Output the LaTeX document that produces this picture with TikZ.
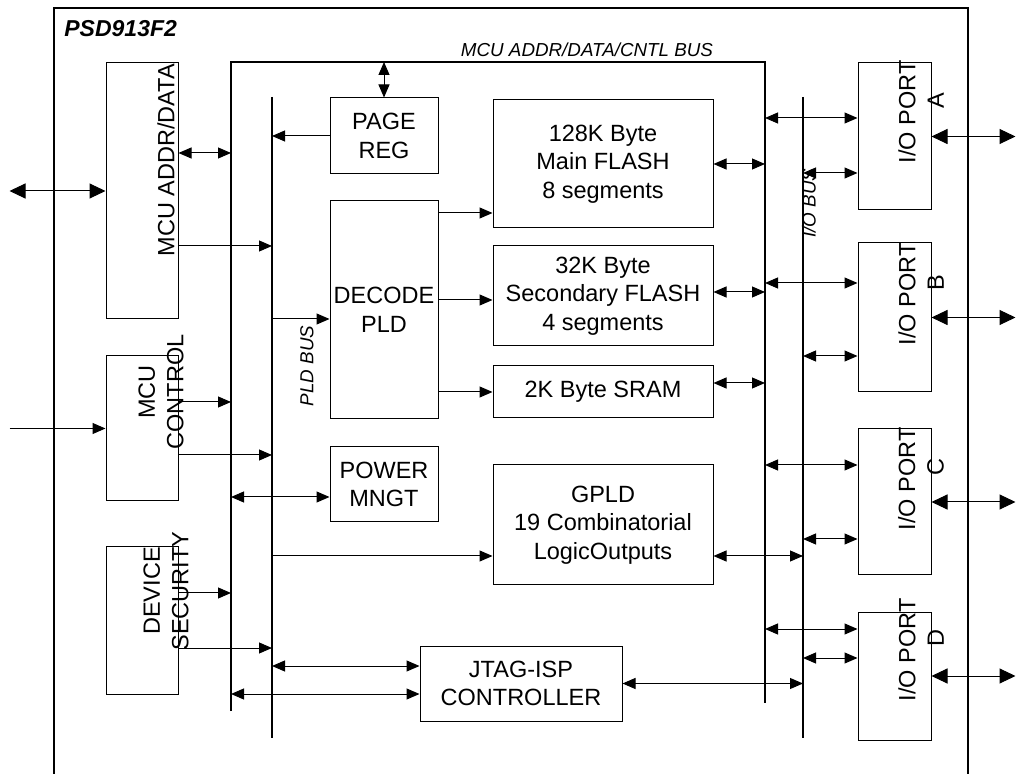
\documentclass[tikz,border=0pt]{standalone}
\usepackage{fontspec}
\setmainfont{Liberation Sans}
\usetikzlibrary{arrows.meta, positioning}

\begin{document}
\begin{tikzpicture}[
  x=0.5pt, y=-0.5pt,
  font=\fontsize{11.75}{14.25}\selectfont,
  blk/.style={draw, line width=0.5pt, inner sep=0pt, align=center},
  vtxt/.style={rotate=90, align=center, inner sep=0pt},
  buslbl/.style={font=\fontsize{9.4}{11}\selectfont\itshape, inner sep=0pt},
  bus/.style={line width=1.2pt},
  flow/.style={-{Triangle[length=6.5pt, width=5.5pt]}, line width=0.5pt},
  dflow/.style={{Triangle[length=6.5pt, width=5.5pt]}-{Triangle[length=6.5pt, width=5.5pt]}, line width=0.5pt},
  ext/.style={{Triangle[length=8pt, width=7.5pt]}-{Triangle[length=8pt, width=7.5pt]}, line width=0.5pt},
]
\useasboundingbox (0,0) rectangle (1017,774);

\draw[line width=1.2pt] (54,774) -- (54,8) -- (968,8) -- (968,774);
\node[anchor=base west, inner sep=0pt, font=\fontsize{11.5}{14}\selectfont\bfseries\itshape] (title) at (64,37) {PSD913F2};

% buses
\coordinate (mbLb) at (231,711);
\coordinate (mbLt) at (231,62);
\coordinate (mbRt) at (765,62);
\coordinate (mbRb) at (765,703);
\coordinate (pldt) at (272,97);
\coordinate (pldb) at (272,738);
\coordinate (iot) at (803,97);
\coordinate (iob) at (803,738);
\draw[bus] (mbLb) -- (mbLt) -- (mbRt) -- (mbRb);
\draw[bus] (pldt) -- (pldb);
\draw[bus] (iot) -- (iob);
\node[buslbl, anchor=base] (mbus-t) at (587,57) {MCU ADDR/DATA/CNTL BUS};
\node[buslbl, rotate=90] (pld-t) at (307,366) {PLD BUS};
\node[buslbl, rotate=90] (io-t) at (809,203) {I/O BUS};

% left blocks
\node[blk, minimum width=36pt, minimum height=128pt] (mcuad) at (142,191) {};
\node[vtxt] (mcuad-t) at (166,160) {MCU ADDR/DATA};
\node[blk, minimum width=36pt, minimum height=72.5pt] (mcuctl) at (142,428.5) {};
\node[vtxt] (mcuctl-t) at (161,392) {MCU\\CONTROL};
\node[blk, minimum width=36pt, minimum height=73.5pt] (devsec) at (142,620.5) {};
\node[vtxt] (devsec-t) at (166,591) {DEVICE\\SECURITY};

% middle blocks
\node[blk, minimum width=54pt, minimum height=38pt] (pagereg) at (384,136) {PAGE\\REG};
\node[blk, minimum width=54pt, minimum height=109pt] (decode) at (384,310) {DECODE\\PLD};
\node[blk, minimum width=54pt, minimum height=37.5pt] (power) at (384,484.5) {POWER\\MNGT};
\node[blk, minimum width=110pt, minimum height=64pt] (mainfl) at (603,164) {128K Byte\\Main FLASH\\8 segments};
\node[blk, minimum width=110pt, minimum height=50pt] (secfl) at (603,296) {32K Byte\\Secondary FLASH\\4 segments};
\node[blk, minimum width=110pt, minimum height=26pt] (sram) at (603,392) {2K Byte SRAM};
\node[blk, minimum width=110pt, minimum height=60pt] (gpld) at (603,525) {GPLD\\19 Combinatorial\\LogicOutputs};
\node[blk, minimum width=101pt, minimum height=37.5pt] (jtag) at (521,683.5) {JTAG-ISP\\CONTROLLER};

% ports
\node[blk, minimum width=36.5pt, minimum height=73.5pt] (porta) at (894.5,136.5) {};
\node[blk, minimum width=36.5pt, minimum height=74.5pt] (portb) at (894.5,317.5) {};
\node[blk, minimum width=36.5pt, minimum height=73pt] (portc) at (894.5,502) {};
\node[blk, minimum width=36.5pt, minimum height=64pt] (portd) at (894.5,676) {};
\node[vtxt] (porta-t) at (921,112) {I/O PORT\\\hspace*{1em}A};
\node[vtxt] (portb-t) at (921,294) {I/O PORT\\\hspace*{1em}B};
\node[vtxt] (portc-t) at (921,479) {I/O PORT\\\hspace*{1em}C};
\node[vtxt] (portd-t) at (921,650) {I/O PORT\\\hspace*{1em}D};

% connectors
\draw[ext] ([xshift=-48pt]mcuad.west) -- (mcuad.west);
\draw[dflow] (mcuad.east |- 0,153) -- (mbLt |- 0,153);
\draw[flow] (mcuad.east |- 0,246) -- (pldt |- 0,246);
\draw[flow] ([xshift=-48pt]mcuctl.west) -- (mcuctl.west);
\draw[flow] (mcuctl.east |- 0,402) -- (mbLt |- 0,402);
\draw[flow] (mcuctl.east |- 0,455) -- (pldt |- 0,455);
\draw[flow] (devsec.east |- 0,593) -- (mbLt |- 0,593);
\draw[flow] (devsec.east |- 0,648) -- (pldt |- 0,648);

\draw[dflow] (pagereg.north |- mbLt) -- (pagereg.north);
\draw[flow] (pagereg.west) -- (pagereg.west -| pldt);
\draw[flow] (pldt |- 0,319) -- (decode.west |- 0,319);
\draw[flow] (decode.east |- 0,213) -- (mainfl.west |- 0,213);
\draw[flow] (decode.east |- 0,300) -- (secfl.west |- 0,300);
\draw[flow] (decode.east |- sram.west) -- (sram.west);
\draw[dflow] (mbLt |- 0,497) -- (power.west |- 0,497);
\draw[flow] (pldt |- 0,556) -- (gpld.west |- 0,556);
\draw[dflow] (pldt |- 0,666) -- (jtag.west |- 0,666);
\draw[dflow] (mbLt |- 0,694) -- (jtag.west |- 0,694);

\draw[dflow] (mainfl.east) -- (mainfl.east -| mbRt);
\draw[dflow] (secfl.east |- 0,292) -- (mbRt |- 0,292);
\draw[dflow] (sram.east |- 0,383) -- (mbRt |- 0,383);
\draw[dflow] (gpld.east |- 0,556) -- (iot |- 0,556);
\draw[dflow] (jtag.east) -- (jtag.east -| iot);

\draw[dflow] (mbRt |- 0,118) -- (porta.west |- 0,118);
\draw[dflow] (iot |- 0,173) -- (porta.west |- 0,173);
\draw[dflow] (mbRt |- 0,283) -- (portb.west |- 0,283);
\draw[dflow] (iot |- 0,356) -- (portb.west |- 0,356);
\draw[dflow] (mbRt |- 0,465) -- (portc.west |- 0,465);
\draw[dflow] (iot |- 0,539) -- (portc.west |- 0,539);
\draw[dflow] (mbRt |- 0,629) -- (portd.west |- 0,629);
\draw[dflow] (iot |- 0,658) -- (portd.west |- 0,658);
\draw[ext] (porta.east) -- ([xshift=42pt]porta.east);
\draw[ext] (portb.east) -- ([xshift=42pt]portb.east);
\draw[ext] (portc.east) -- ([xshift=42pt]portc.east);
\draw[ext] (portd.east) -- ([xshift=42pt]portd.east);
\end{tikzpicture}
\end{document}
